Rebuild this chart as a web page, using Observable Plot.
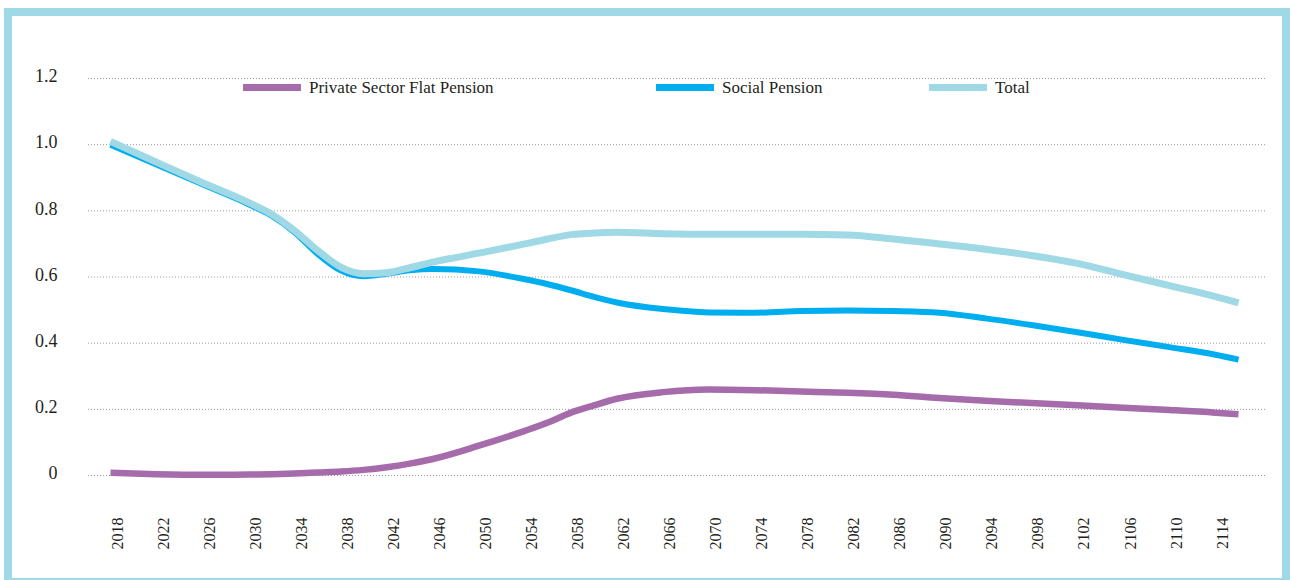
<!DOCTYPE html>
<html><head><meta charset="utf-8">
<script src="https://cdn.jsdelivr.net/npm/d3@7"></script>
<script src="https://cdn.jsdelivr.net/npm/@observablehq/plot@0.6"></script>
<style>
html,body{margin:0;padding:0;background:#fff;}
#wrap{position:relative;width:1290px;height:580px;overflow:hidden;font-family:"Liberation Serif",serif;color:#231f20;}
#frame{position:absolute;left:4px;top:8px;width:1286px;height:578px;box-sizing:border-box;border:8px solid #9fd9e5;}
#chart{position:absolute;left:0;top:0;}
#chart svg, #chart svg text{font-family:"Liberation Serif",serif !important;}
.item{position:absolute;top:79px;height:17px;font-size:17px;line-height:17px;white-space:nowrap;}
.sw{position:absolute;top:5px;left:0;width:58px;height:7px;}
.lab{position:absolute;left:66px;top:0;}
</style></head>
<body><div id="wrap"><div id="frame"></div><div id="chart"></div><div id="legend"></div></div>
<script>
const years = [2018, 2022, 2026, 2030, 2032, 2034, 2036, 2038, 2040, 2042, 2044, 2046, 2050, 2054, 2056, 2058, 2060, 2062, 2066, 2070, 2074, 2078, 2082, 2086, 2090, 2094, 2098, 2102, 2106, 2110, 2114, 2116];
const privateFlat = [0.008, 0.004, 0.002, 0.003, 0.004, 0.006, 0.009, 0.012, 0.017, 0.025, 0.036, 0.05, 0.09, 0.135, 0.16, 0.19, 0.212, 0.232, 0.252, 0.26, 0.258, 0.254, 0.25, 0.244, 0.234, 0.226, 0.219, 0.212, 0.205, 0.198, 0.19, 0.185];
const social = [1.0, 0.94, 0.88, 0.82, 0.785, 0.735, 0.67, 0.62, 0.602, 0.61, 0.62, 0.624, 0.617, 0.593, 0.578, 0.56, 0.54, 0.523, 0.503, 0.493, 0.492, 0.497, 0.499, 0.497, 0.492, 0.475, 0.455, 0.433, 0.41, 0.388, 0.365, 0.35];
const total = [1.01, 0.947, 0.885, 0.825, 0.79, 0.74, 0.68, 0.63, 0.61, 0.613, 0.628, 0.645, 0.672, 0.70, 0.715, 0.728, 0.733, 0.735, 0.731, 0.729, 0.729, 0.729, 0.727, 0.715, 0.7, 0.684, 0.665, 0.641, 0.607, 0.574, 0.541, 0.522];
const seriesNames = ["Private Sector Flat Pension", "Social Pension", "Total"];
const seriesColors = ["#a66bab", "#00aeef", "#9fd9e5"];
const yTicks = [0, 0.2, 0.4, 0.6, 0.8, 1.0, 1.2];
const xTicks = [2018, 2022, 2026, 2030, 2034, 2038, 2042, 2046, 2050, 2054, 2058, 2062, 2066, 2070, 2074, 2078, 2082, 2086, 2090, 2094, 2098, 2102, 2106, 2110, 2114];

const seriesValues = [privateFlat, social, total];
const rows = seriesNames.map((name, s) => years.map((yr, i) => ({year: yr, value: seriesValues[s][i], series: name})));
const widths = [6.5, 6, 7];

const chart = Plot.plot({
  width: 1290, height: 580,
  marginLeft: 88, marginRight: 25, marginTop: 78, marginBottom: 105,
  insetLeft: 22, insetRight: 27,
  style: {fontFamily: "\"Liberation Serif\", serif", fontSize: "17px", color: "#231f20", background: "transparent", overflow: "visible"},
  x: {domain: [2018, 2116], label: null},
  y: {domain: [0, 1.2], label: null},
  color: {domain: seriesNames, range: seriesColors},
  marks: [
    Plot.gridY(yTicks, {stroke: "#999", strokeOpacity: 1, strokeDasharray: "1,2"}),
    Plot.axisY(yTicks, {tickSize: 0, tickPadding: 31, dy: -2, fontSize: 18, fill: "#231f20", label: null, tickFormat: d => d === 0 ? "0" : d.toFixed(1)}),
    Plot.axisX(xTicks, {tickSize: 0, tickRotate: -90, tickPadding: 42, dx: 7, fontSize: 16, fill: "#231f20", label: null, tickFormat: d => String(d)}),
    ...rows.map((data, s) => Plot.line(data, {x: "year", y: "value", stroke: "series", strokeWidth: widths[s], strokeLinecap: "butt", curve: "monotone-x"}))
  ]
});
document.getElementById("chart").appendChild(chart);

const legendLefts = [243, 656, 929];
const legend = document.getElementById("legend");
seriesNames.forEach((name, i) => {
  const item = document.createElement("div");
  item.className = "item";
  item.style.left = legendLefts[i] + "px";
  const sw = document.createElement("span");
  sw.className = "sw";
  sw.style.background = seriesColors[i];
  const lab = document.createElement("span");
  lab.className = "lab";
  lab.textContent = name;
  item.appendChild(sw); item.appendChild(lab);
  legend.appendChild(item);
});
</script>
</body></html>
